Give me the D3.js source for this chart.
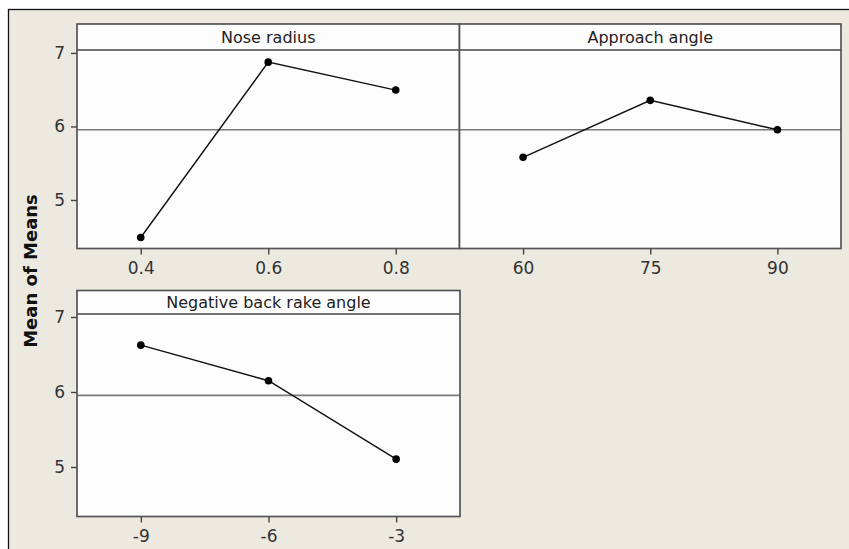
<!DOCTYPE html>
<html>
<head>
<meta charset="utf-8">
<script src="https://cdn.jsdelivr.net/npm/d3@7/dist/d3.min.js"></script>
<style>
  html, body { margin: 0; padding: 0; background: #ffffff; }
  svg { display: block; }
</style>
</head>
<body>
<svg id="chart" width="849" height="549"></svg>
<script>
// Main effects plot for means (Minitab style)
const noseLevels = [0.4, 0.6, 0.8];
const noseMeans = [4.49, 6.875, 6.495];
const noseTicks = ["0.4", "0.6", "0.8"];

const approachLevels = [60, 75, 90];
const approachMeans = [5.58, 6.355, 5.955];
const approachTicks = ["60", "75", "90"];

const rakeLevels = [-9, -6, -3];
const rakeMeans = [6.625, 6.15, 5.105];
const rakeTicks = ["-9", "-6", "-3"];

const yTicks = [5, 6, 7];
const grandMean = 5.955;
const yTitle = "Mean of Means";

const panels = [
  { title: "Nose radius", levels: noseLevels, means: noseMeans, ticks: noseTicks,
    xDomain: [0.3, 0.9], x0: 77, x1: 459.5, top: 24, stripBottom: 50, bottom: 248.5, yAxis: true },
  { title: "Approach angle", levels: approachLevels, means: approachMeans, ticks: approachTicks,
    xDomain: [52.5, 97.5], x0: 459.5, x1: 841, top: 24, stripBottom: 50, bottom: 248.5, yAxis: false },
  { title: "Negative back rake angle", levels: rakeLevels, means: rakeMeans, ticks: rakeTicks,
    xDomain: [-10.5, -1.5], x0: 77, x1: 460, top: 290.5, stripBottom: 314, bottom: 516.5, yAxis: true }
];

const yDomain = [4.34, 7.04];
const font = "'DejaVu Sans', Verdana, sans-serif";

const svg = d3.select("#chart");

// window background and outer frame
svg.append("rect").attr("x", 8.5).attr("y", 9.5).attr("width", 900).attr("height", 600)
  .attr("fill", "#ece9e1").attr("stroke", "#111").attr("stroke-width", 1.3);

// y-axis title
svg.append("text")
  .attr("transform", "translate(37,271) rotate(-90)")
  .attr("text-anchor", "middle")
  .attr("font-family", font).attr("font-weight", "bold").attr("font-size", 18)
  .attr("fill", "#111")
  .text(yTitle);

panels.forEach(p => {
  const g = svg.append("g");
  const x = d3.scaleLinear().domain(p.xDomain).range([p.x0, p.x1]);
  const y = d3.scaleLinear().domain(yDomain).range([p.bottom, p.stripBottom]);

  // panel background (strip + data region)
  g.append("rect").attr("x", p.x0).attr("y", p.top)
    .attr("width", p.x1 - p.x0).attr("height", p.bottom - p.top)
    .attr("fill", "#fdfdfd");

  // grand mean reference line
  g.append("line")
    .attr("x1", p.x0).attr("x2", p.x1)
    .attr("y1", y(grandMean)).attr("y2", y(grandMean))
    .attr("stroke", "#7a7a7a").attr("stroke-width", 1.7);

  // strip separator
  g.append("line")
    .attr("x1", p.x0).attr("x2", p.x1)
    .attr("y1", p.stripBottom).attr("y2", p.stripBottom)
    .attr("stroke", "#444").attr("stroke-width", 1.6);

  // panel frame
  g.append("rect").attr("x", p.x0).attr("y", p.top)
    .attr("width", p.x1 - p.x0).attr("height", p.bottom - p.top)
    .attr("fill", "none").attr("stroke", "#555").attr("stroke-width", 1.7);

  // strip title
  g.append("text")
    .attr("x", (p.x0 + p.x1) / 2).attr("y", (p.top + p.stripBottom) / 2 + 6)
    .attr("text-anchor", "middle")
    .attr("font-family", font).attr("font-size", 16).attr("fill", "#222")
    .text(p.title);

  // x axis
  const xAxis = d3.axisBottom(x).tickValues(p.levels)
    .tickFormat((d, i) => p.ticks[i]).tickSize(6).tickPadding(7);
  const xa = g.append("g").attr("transform", `translate(0,${p.bottom})`).call(xAxis);
  xa.select(".domain").remove();
  xa.selectAll(".tick line").attr("stroke", "#444").attr("stroke-width", 1.4);
  xa.selectAll(".tick text").attr("font-family", font).attr("font-size", 17).attr("fill", "#333");

  // y axis
  if (p.yAxis) {
    const yAxis = d3.axisLeft(y).tickValues(yTicks).tickFormat(d3.format("d"))
      .tickSize(6).tickPadding(6);
    const ya = g.append("g").attr("transform", `translate(${p.x0},0)`).call(yAxis);
    ya.select(".domain").remove();
    ya.selectAll(".tick line").attr("stroke", "#444").attr("stroke-width", 1.4);
    ya.selectAll(".tick text").attr("font-family", font).attr("font-size", 17).attr("fill", "#333");
  }

  // main effect line and points
  const pts = p.levels.map((l, i) => [l, p.means[i]]);
  g.append("path").datum(pts)
    .attr("fill", "none").attr("stroke", "#111").attr("stroke-width", 1.4)
    .attr("d", d3.line().x(d => x(d[0])).y(d => y(d[1])));
  g.selectAll("circle.pt").data(pts).join("circle")
    .attr("class", "pt")
    .attr("cx", d => x(d[0])).attr("cy", d => y(d[1])).attr("r", 3.8)
    .attr("fill", "#000");
});
</script>
</body>
</html>
